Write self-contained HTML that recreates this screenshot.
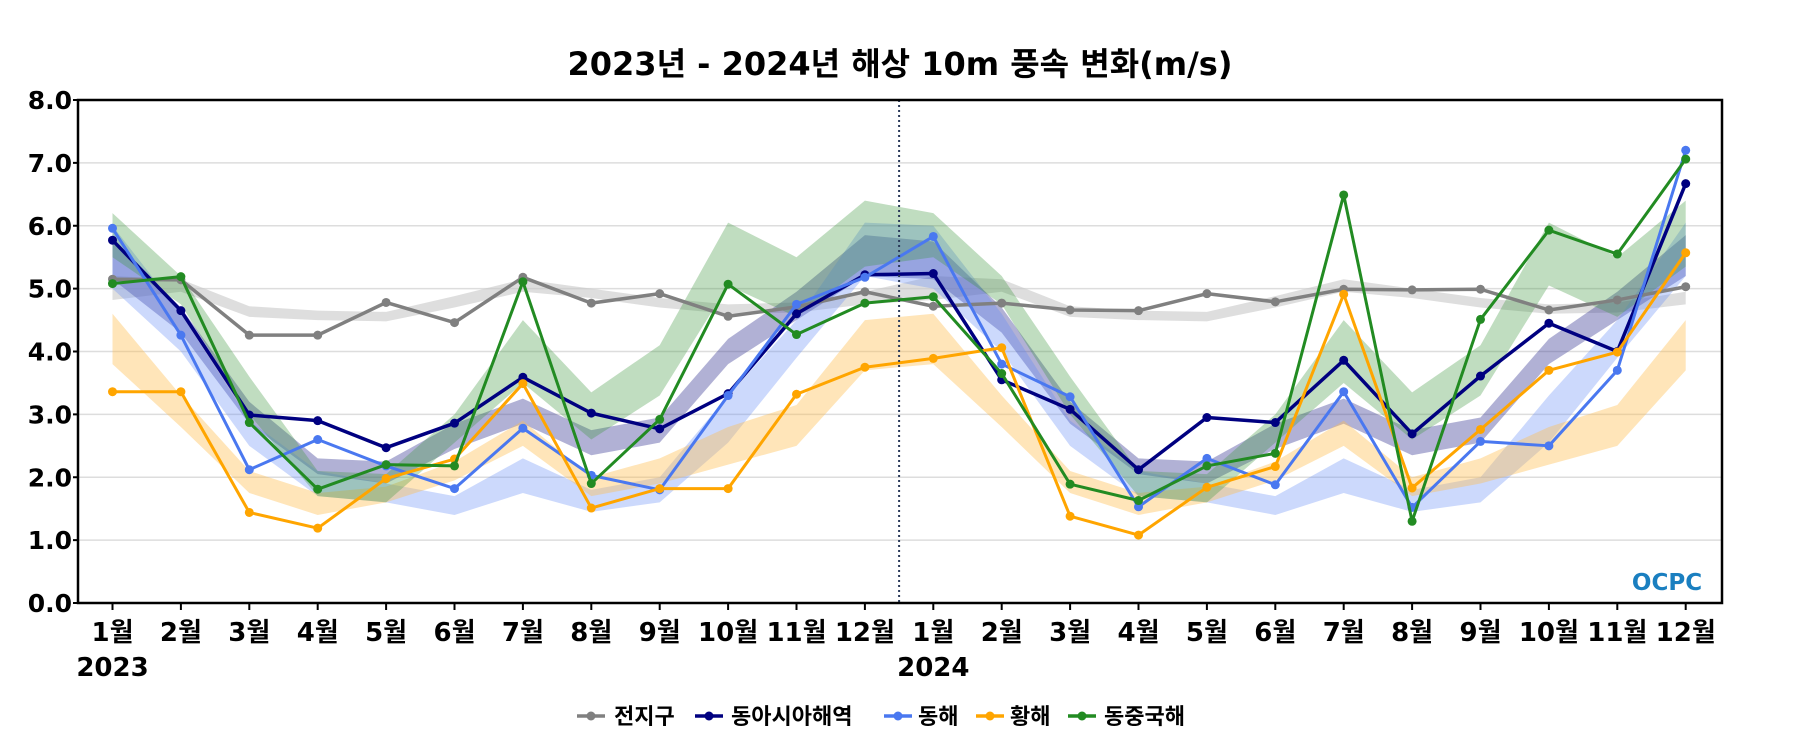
<!DOCTYPE html>
<html><head><meta charset="utf-8">
<style>
body{margin:0;background:#fff;width:1800px;height:750px;overflow:hidden;font-family:"DejaVu Sans","Noto Sans CJK KR",sans-serif;}
svg text{font-family:"DejaVu Sans","Noto Sans CJK KR",sans-serif;}
</style></head>
<body>
<svg id="chart" width="1800" height="750" xmlns="http://www.w3.org/2000/svg">
<text x="900" y="75" text-anchor="middle" font-size="32" font-weight="bold" fill="#000">2023년 - 2024년 해상 10m 풍속 변화(m/s)</text>
<g id="grid"></g>
<g id="bands"></g>
<g id="lines"></g>
<g id="axes"></g>
<text x="1667" y="590" text-anchor="middle" font-size="23" font-weight="bold" fill="#1a7fc0">OCPC</text>
<g id="legend"></g>
</svg>
<script>
const months = ["1월","2월","3월","4월","5월","6월","7월","8월","9월","10월","11월","12월"];
const years = ["2023","2024"];
const yTicks = [0,1,2,3,4,5,6,7,8];
const seriesNames = ["전지구","동아시아해역","동해","황해","동중국해"];
const globalVals = [5.15,5.14,4.26,4.26,4.78,4.46,5.18,4.77,4.92,4.56,4.71,4.95, 4.72,4.77,4.66,4.65,4.92,4.79,4.99,4.98,4.99,4.66,4.82,5.03];
const eastAsiaVals = [5.77,4.65,2.99,2.90,2.47,2.86,3.59,3.02,2.77,3.33,4.60,5.22, 5.24,3.55,3.08,2.12,2.95,2.87,3.86,2.69,3.61,4.45,4.00,6.67];
const eastSeaVals = [5.96,4.26,2.12,2.60,2.18,1.82,2.78,2.03,1.80,3.30,4.75,5.18, 5.83,3.80,3.28,1.53,2.30,1.88,3.36,1.52,2.57,2.50,3.70,7.20];
const yellowSeaVals = [3.36,3.36,1.44,1.19,1.98,2.29,3.49,1.51,1.82,1.82,3.32,3.75, 3.89,4.06,1.38,1.08,1.84,2.17,4.91,1.83,2.76,3.70,3.99,5.57];
const ecsVals = [5.08,5.19,2.87,1.81,2.20,2.18,5.11,1.90,2.92,5.07,4.27,4.77, 4.87,3.65,1.89,1.63,2.18,2.38,6.49,1.30,4.51,5.93,5.55,7.06];
const globalLow  = [4.82,4.95,4.55,4.50,4.48,4.70,4.95,4.85,4.70,4.60,4.62,4.75];
const globalHigh = [5.20,5.15,4.72,4.65,4.63,4.88,5.15,5.00,4.85,4.75,4.78,4.95];
const eastAsiaLow  = [5.15,4.30,2.85,2.05,1.90,2.45,2.85,2.35,2.55,3.80,4.50,5.20];
const eastAsiaHigh = [5.75,4.70,3.20,2.30,2.25,2.85,3.25,2.75,2.95,4.20,4.95,5.85];
const eastSeaLow  = [5.00,4.00,2.50,1.70,1.60,1.40,1.75,1.45,1.60,2.55,3.90,5.20];
const eastSeaHigh = [6.00,4.60,2.90,2.10,1.90,1.70,2.30,1.80,2.00,3.30,4.50,6.05];
const yellowSeaLow  = [3.80,2.80,1.75,1.40,1.60,1.95,2.50,1.70,1.90,2.20,2.50,3.70];
const yellowSeaHigh = [4.60,3.30,2.10,1.75,1.85,2.25,2.90,2.00,2.30,2.80,3.15,4.50];
const ecsLow  = [5.50,4.75,3.00,1.70,1.60,2.55,3.50,2.60,3.30,5.05,4.55,5.35];
const ecsHigh = [6.20,5.20,3.60,2.10,2.05,3.00,4.50,3.35,4.10,6.05,5.50,6.40];

const NS="http://www.w3.org/2000/svg";
const L=78,R=1722,T=100,B=603;
const X0=112.5, DX=68.4;
function xs(i){return X0+i*DX;}
function ys(v){return B-(v/8)*(B-T);}
function mk(tag,attrs,parent){const e=document.createElementNS(NS,tag);for(const k in attrs)e.setAttribute(k,attrs[k]);parent.appendChild(e);return e;}
const grid=document.getElementById('grid'),bands=document.getElementById('bands'),lines=document.getElementById('lines'),axes=document.getElementById('axes'),legend=document.getElementById('legend');

yTicks.forEach(v=>{
  if(v>0&&v<8){const g=mk('line',{x1:L,x2:R,y1:ys(v),y2:ys(v),stroke:'#dddddd','stroke-width':1.5},grid);
  
  }
  const t=mk('text',{x:L-6,y:ys(v)+9,'text-anchor':'end','font-size':25,'font-weight':'bold',fill:'#000'},axes);
  t.textContent=v.toFixed(1);
  
  
  mk('line',{x1:L-5,x2:L,y1:ys(v),y2:ys(v),stroke:'#000','stroke-width':2},axes);
});
const n=globalVals.length;
for(let i=0;i<n;i++){
  mk('line',{x1:xs(i),x2:xs(i),y1:B,y2:B+7,stroke:'#000','stroke-width':2},axes);
  const t=mk('text',{x:xs(i),y:641,'text-anchor':'middle','font-size':26,'font-weight':'bold',fill:'#000'},axes);
  t.textContent=months[i%12];
  
  
}
years.forEach((y,k)=>{
  const t=mk('text',{x:xs(k*12),y:676,'text-anchor':'middle','font-size':26,'font-weight':'bold',fill:'#000'},axes);
  t.textContent=y;
  
  
});
const div=mk('line',{x1:(xs(11)+xs(12))/2,x2:(xs(11)+xs(12))/2,y1:T,y2:B,stroke:'#2a3a5a','stroke-width':2,'stroke-dasharray':'2,3'},axes);


const frame=mk('rect',{x:L,y:T,width:R-L,height:B-T,fill:'none',stroke:'#000','stroke-width':2.5},axes);



const series=[
 {vals:globalVals,lo:globalLow,hi:globalHigh,c:'#808080',band:'rgba(200,200,200,0.6)',w:3.5,name:'global'},
 {vals:eastAsiaVals,lo:eastAsiaLow,hi:eastAsiaHigh,c:'#000080',band:'rgba(60,60,150,0.4)',w:3.5,name:'east-asia'},
 {vals:eastSeaVals,lo:eastSeaLow,hi:eastSeaHigh,c:'#4a78f0',band:'rgba(100,140,245,0.33)',w:3,name:'east-sea'},
 {vals:yellowSeaVals,lo:yellowSeaLow,hi:yellowSeaHigh,c:'#ffa500',band:'rgba(255,190,80,0.4)',w:3,name:'yellow-sea'},
 {vals:ecsVals,lo:ecsLow,hi:ecsHigh,c:'#228b22',band:'rgba(60,150,60,0.32)',w:3,name:'east-china-sea'}
];
series.forEach(s=>{
  let up=[],dn=[];
  for(let i=0;i<n;i++){up.push(xs(i)+','+ys(s.hi[i%12]));dn.unshift(xs(i)+','+ys(s.lo[i%12]));}
  const p=mk('polygon',{points:up.concat(dn).join(' '),fill:s.band,stroke:'none'},bands);
  
  
});
series.forEach(s=>{
  const pts=s.vals.map((v,i)=>xs(i)+','+ys(v)).join(' ');
  const pl=mk('polyline',{points:pts,fill:'none',stroke:s.c,'stroke-width':s.w,'stroke-linejoin':'round'},lines);
  
  
  s.vals.forEach((v,i)=>{
    const c=mk('circle',{cx:xs(i),cy:ys(v),r:4.5,fill:s.c},lines);
    
    
  });
});
const legX=[577,695,884,976,1068];
const legT=[614,731,918,1010,1104];
series.forEach((s,k)=>{
  const g=mk('g',{},legend);
  
  
  mk('line',{x1:legX[k],x2:legX[k]+28,y1:716,y2:716,stroke:s.c,'stroke-width':3.5},g);
  mk('circle',{cx:legX[k]+14,cy:716,r:4.5,fill:s.c},g);
  const t=mk('text',{x:legT[k],y:724,'font-size':22,'font-weight':'bold',fill:'#000'},g);
  t.textContent=seriesNames[k];
});
</script>
</body></html>
